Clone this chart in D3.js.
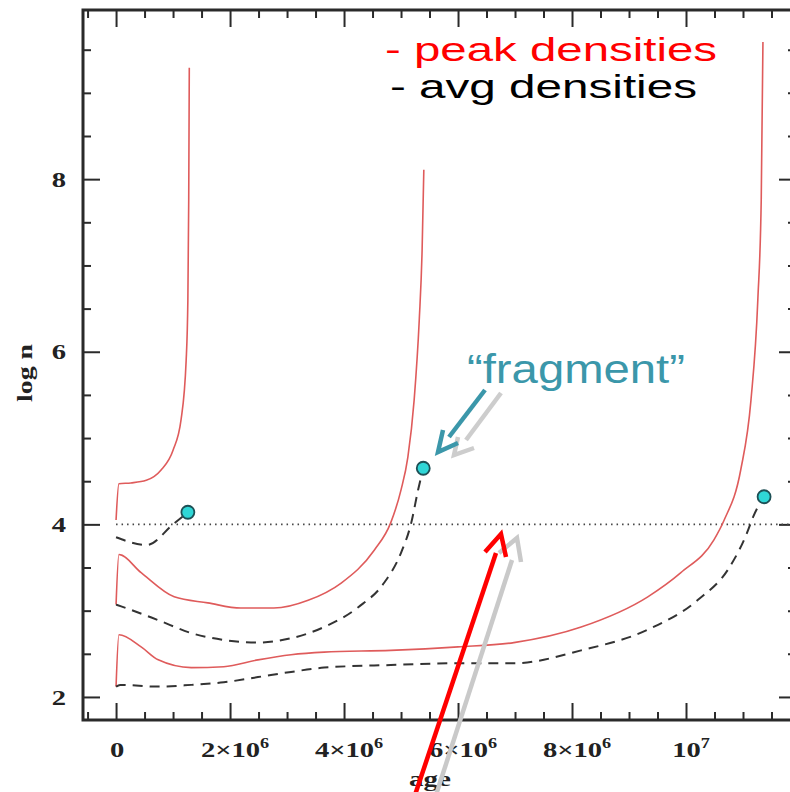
<!DOCTYPE html>
<html>
<head>
<meta charset="utf-8">
<script src="https://cdn.jsdelivr.net/npm/d3@7"></script>
<style>
  body { margin: 0; background: #fff; }
  svg { display: block; }
  .tick-label { font-family: "Liberation Serif", "DejaVu Serif", serif; font-weight: bold; font-size: 22px; fill: #222; }
</style>
</head>
<body>
<div id="chart"></div>
<script>
// age in units of 1e6 yr, log n
const peak1Age = [0, 0.05, 0.26, 0.53, 0.79, 1.0, 1.14, 1.23, 1.26, 1.275, 1.285];
const peak1LogN = [4.05, 4.47, 4.48, 4.51, 4.63, 4.86, 5.21, 5.9, 6.6, 7.76, 9.29];
const avg1Age = [0, 0.54, 1.0, 1.26];
const avg1LogN = [3.85, 3.76, 4.0, 4.14];

const peak2Age = [0, 0.05, 0.44, 1.02, 1.61, 2.19, 2.77, 3.37, 3.95, 4.53, 4.82, 5.0, 5.12, 5.23, 5.32, 5.37, 5.40];
const peak2LogN = [3.07, 3.65, 3.44, 3.16, 3.09, 3.03, 3.03, 3.12, 3.32, 3.70, 4.02, 4.40, 4.78, 5.44, 6.37, 7.18, 8.11];
const avg2Age = [0, 0.09, 0.74, 1.32, 1.89, 2.49, 3.07, 3.65, 4.25, 4.70, 5.0, 5.18, 5.30, 5.39];
const avg2LogN = [3.07, 3.05, 2.89, 2.74, 2.66, 2.63, 2.68, 2.81, 3.04, 3.32, 3.67, 4.02, 4.40, 4.65];

const peak3Age = [0, 0.05, 0.44, 0.74, 1.32, 1.89, 2.49, 3.07, 3.65, 4.82, 6.0, 6.98, 8.16, 9.33, 9.91, 10.49, 10.67, 10.96, 11.14, 11.26, 11.32, 11.35];
const peak3LogN = [2.12, 2.72, 2.58, 2.43, 2.34, 2.35, 2.43, 2.49, 2.52, 2.54, 2.58, 2.63, 2.81, 3.16, 3.44, 3.82, 4.05, 4.63, 5.44, 6.60, 7.76, 9.59];
const avg3Age = [0, 0.07, 0.74, 1.32, 1.89, 2.49, 3.07, 3.65, 4.82, 6.0, 6.98, 8.16, 9.33, 10.2, 10.77, 11.07, 11.18, 11.37];
const avg3LogN = [2.12, 2.14, 2.12, 2.14, 2.17, 2.23, 2.29, 2.34, 2.37, 2.39, 2.39, 2.54, 2.78, 3.12, 3.51, 3.90, 4.09, 4.32];

const fragmentAge = [1.26, 5.39, 11.37];
const fragmentLogN = [4.14, 4.65, 4.32];

const thresholdLogN = 4;
const xTickValues = [0, 2, 4, 6, 8, 10];
const xTickMantissa = ["0", "2×10", "4×10", "6×10", "8×10", "10"];
const xTickExponent = ["", "6", "6", "6", "6", "7"];
const yTickValues = [2, 4, 6, 8];

const width = 790, height = 792;
const frame = { left: 83, right: 796, top: 10, bottom: 720 };

const svg = d3.select("#chart").append("svg")
  .attr("width", width)
  .attr("height", height);

const x = d3.scaleLinear().domain([-0.58, 11.93]).range([frame.left, frame.right]);
const y = d3.scaleLinear().domain([1.733, 9.96]).range([frame.bottom, frame.top]);

const axisColor = "#2a2a2a";
const majorLen = 17, minorLen = 8;
const xMinor = d3.range(-0.5, 12, 0.5).filter((v) => xTickValues.indexOf(v) < 0);
const yMinor = d3.range(2, 10, 0.5).filter((v) => yTickValues.indexOf(v) < 0);

// axes drawn as four inward-tick axes
function frameAxis(axisFn, scale, values, len, translate) {
  svg.append("g")
    .attr("transform", translate)
    .call(axisFn(scale).tickValues(values).tickSize(len).tickFormat(""))
    .call((g) => g.select(".domain").remove())
    .call((g) => g.selectAll("line").attr("stroke", axisColor).attr("stroke-width", 2));
}
frameAxis(d3.axisBottom, x, xTickValues, majorLen, `translate(0,${frame.top})`);
frameAxis(d3.axisBottom, x, xMinor, minorLen, `translate(0,${frame.top})`);
frameAxis(d3.axisTop, x, xTickValues, majorLen, `translate(0,${frame.bottom})`);
frameAxis(d3.axisTop, x, xMinor, minorLen, `translate(0,${frame.bottom})`);
frameAxis(d3.axisRight, y, yTickValues, majorLen, `translate(${frame.left},0)`);
frameAxis(d3.axisRight, y, yMinor, minorLen, `translate(${frame.left},0)`);
frameAxis(d3.axisLeft, y, yTickValues, majorLen, `translate(${frame.right},0)`);
frameAxis(d3.axisLeft, y, yMinor, minorLen, `translate(${frame.right},0)`);

svg.append("rect")
  .attr("x", frame.left)
  .attr("y", frame.top)
  .attr("width", frame.right - frame.left)
  .attr("height", frame.bottom - frame.top)
  .attr("fill", "none")
  .attr("stroke", axisColor)
  .attr("stroke-width", 3);

// tick labels (the slide stretches them sideways)
svg.selectAll(".ylab").data(yTickValues).enter()
  .append("text")
  .attr("class", "tick-label")
  .attr("transform", (d) => `translate(59,${y(d)}) scale(1.3,1)`)
  .attr("dy", "0.35em")
  .attr("text-anchor", "middle")
  .text((d) => d);

const xLabels = svg.selectAll(".xlab").data(xTickValues).enter()
  .append("text")
  .attr("class", "tick-label")
  .attr("transform", (d) => `translate(${x(d) + (d === 0 ? 1 : 5)},757) scale(1.3,1)`)
  .attr("text-anchor", "middle");
xLabels.append("tspan").text((d, i) => xTickMantissa[i]);
xLabels.append("tspan")
  .attr("dy", -9)
  .attr("font-size", 14)
  .text((d, i) => xTickExponent[i]);

svg.append("text")
  .attr("class", "tick-label")
  .attr("transform", "translate(32,373) rotate(-90)")
  .attr("text-anchor", "middle")
  .attr("font-size", 20)
  .attr("textLength", 58)
  .attr("lengthAdjust", "spacingAndGlyphs")
  .text("log n");

svg.append("text")
  .attr("class", "tick-label")
  .attr("x", 409)
  .attr("y", 786)
  .attr("font-size", 23)
  .attr("textLength", 42)
  .attr("lengthAdjust", "spacingAndGlyphs")
  .text("age");

// threshold
svg.append("line")
  .attr("x1", x(0))
  .attr("x2", frame.right)
  .attr("y1", y(thresholdLogN))
  .attr("y2", y(thresholdLogN))
  .attr("stroke", "#444")
  .attr("stroke-width", 1.6)
  .attr("stroke-dasharray", "1.5,4");

const line = d3.line()
  .x((d) => x(d[0]))
  .y((d) => y(d[1]))
  .curve(d3.curveMonotoneX);

const zip = (a, b) => a.map((v, i) => [v, b[i]]);

[[peak1Age, peak1LogN], [peak2Age, peak2LogN], [peak3Age, peak3LogN]].forEach(([a, n]) => {
  svg.append("path")
    .attr("d", line(zip(a, n)))
    .attr("fill", "none")
    .attr("stroke", "#df5b5b")
    .attr("stroke-width", 1.6);
});

[[avg1Age, avg1LogN], [avg2Age, avg2LogN], [avg3Age, avg3LogN]].forEach(([a, n]) => {
  svg.append("path")
    .attr("d", line(zip(a, n)))
    .attr("fill", "none")
    .attr("stroke", "#333")
    .attr("stroke-width", 2)
    .attr("stroke-dasharray", "10,7");
});

svg.selectAll(".frag").data(zip(fragmentAge, fragmentLogN)).enter()
  .append("circle")
  .attr("cx", (d) => x(d[0]))
  .attr("cy", (d) => y(d[1]))
  .attr("r", 6.5)
  .attr("fill", "#2fd6d6")
  .attr("stroke", "#1d4f55")
  .attr("stroke-width", 1.8);

// slide annotations
function arrow(shaft, head, color, w) {
  svg.append("line")
    .attr("x1", shaft[0]).attr("y1", shaft[1])
    .attr("x2", shaft[2]).attr("y2", shaft[3])
    .attr("stroke", color).attr("stroke-width", w);
  svg.append("polyline")
    .attr("points", head.map((p) => p.join(",")).join(" "))
    .attr("fill", "none")
    .attr("stroke", color).attr("stroke-width", w)
    .attr("stroke-linejoin", "miter");
}

arrow([436, 795, 512, 560], [[499, 553], [517, 538], [521, 562]], "#c9c9c9", 4.5);
arrow([415, 795, 496, 553], [[485, 552], [501, 534], [506, 557]], "#ff0000", 4.5);

arrow([501, 393, 466, 440], [[458, 437], [454, 455], [474, 448]], "#cdcdcd", 4.5);
arrow([485, 390, 449, 437], [[443, 430], [438, 452], [458, 443]], "#3b97aa", 4.5);

svg.append("text")
  .attr("x", 385).attr("y", 61)
  .attr("font-family", "Liberation Sans, Arial, sans-serif")
  .attr("font-size", 34)
  .attr("fill", "#ff0000")
  .attr("textLength", 332)
  .attr("lengthAdjust", "spacingAndGlyphs")
  .text("- peak densities");

svg.append("text")
  .attr("x", 390).attr("y", 98)
  .attr("font-family", "Liberation Sans, Arial, sans-serif")
  .attr("font-size", 34)
  .attr("fill", "#000")
  .attr("textLength", 307)
  .attr("lengthAdjust", "spacingAndGlyphs")
  .text("- avg densities");

svg.append("text")
  .attr("x", 467).attr("y", 383)
  .attr("font-family", "Liberation Sans, Arial, sans-serif")
  .attr("font-size", 40)
  .attr("fill", "#3b97aa")
  .attr("textLength", 218)
  .attr("lengthAdjust", "spacingAndGlyphs")
  .text("\u201Cfragment\u201D");
</script>
</body>
</html>
